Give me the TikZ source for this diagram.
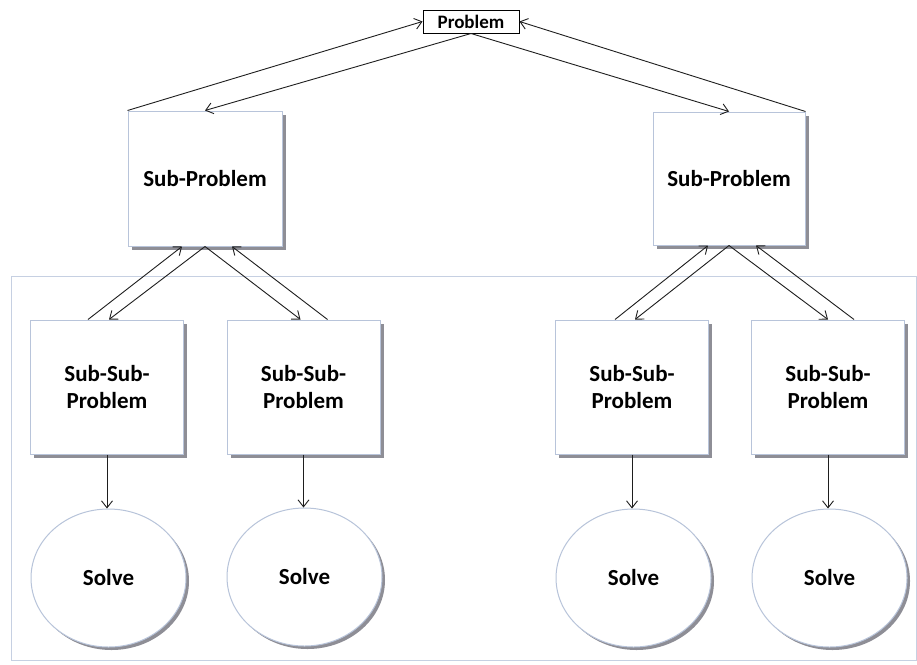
\documentclass[tikz,border=0pt]{standalone}
\usepackage{fontspec}
\setmainfont{Carlito}
\usetikzlibrary{arrows.meta,shapes.geometric,shadows,calc}
\definecolor{boxline}{HTML}{B8C4DA}
\definecolor{frameline}{HTML}{C6D0E2}
\definecolor{shade}{HTML}{8E8E96}
\definecolor{ink}{HTML}{1E1E1E}
\begin{document}
\begin{tikzpicture}[x=1pt,y=-1pt,
  txt/.style={font=\bfseries\fontsize{23}{27}\selectfont, text=black, align=center},
  probbox/.style={draw=black, line width=1pt, fill=white, inner sep=0pt,
     minimum width=96pt, minimum height=23pt, font=\bfseries\fontsize{19}{22}\selectfont},
  sbox/.style={txt, draw=boxline, line width=1pt, fill=white, inner sep=0pt,
     minimum width=153pt, minimum height=134pt,
     drop shadow={shadow xshift=3.5pt, shadow yshift=-3.5pt, fill=shade, opacity=1}},
  solve/.style={txt, ellipse, draw=boxline, line width=1pt, fill=white, inner sep=0pt,
     minimum width=155pt, minimum height=138pt,
     drop shadow={shadow xshift=3pt, shadow yshift=-3pt, fill=shade, opacity=1}},
  arr/.style={draw=ink, line width=0.9pt, -{Straight Barb[length=7pt,width=11pt,line width=0.9pt]}},
  container/.style={draw=frameline, line width=1pt}
]
\useasboundingbox (0,0) rectangle (917,664);
\fill[white] (0,0) rectangle (917,664);
\draw[container] (11,276) rectangle (916,660);

\node[probbox] (prob) at (471,21.5) {Problem};
\node[sbox, minimum width=154pt, minimum height=135pt] (sp1) at (205,178.5) {Sub-Problem};
\node[sbox, minimum width=152pt, minimum height=133pt] (sp2) at (729,178.5) {Sub-Problem};

\node[sbox] (ss1) at (107,387) {Sub-Sub-\\Problem};
\node[sbox] (ss2) at (303.5,387) {Sub-Sub-\\Problem};
\node[sbox] (ss3) at (632,387) {Sub-Sub-\\Problem};
\node[sbox] (ss4) at (828,387) {Sub-Sub-\\Problem};

\node[solve] (e1) at (108.5,578) {Solve};
\node[solve] (e2) at (304.5,577) {Solve};
\node[solve] (e3) at (633.5,578) {Solve};
\node[solve] (e4) at (829.5,578) {Solve};

% Problem <-> Sub-Problems
\draw[arr] (sp1.north west) -- (prob.west);
\draw[arr] (prob.south) -- (sp1.north);
\draw[arr] (prob.south) -- (sp2.north);
\draw[arr] (sp2.north east) -- (prob.east);

% left Sub-Problem <-> Sub-Sub-Problems
\draw[arr] ($(ss1.north)+(-19,0)$) -- ($(sp1.south)+(-23,0)$);
\draw[arr] (sp1.south) -- ($(ss1.north)+(2,0)$);
\draw[arr] (sp1.south) -- ($(ss2.north)+(-3,0)$);
\draw[arr] ($(ss2.north)+(24,0)$) -- ($(sp1.south)+(27,0)$);

% right Sub-Problem <-> Sub-Sub-Problems
\draw[arr] ($(ss3.north)+(-17,0)$) -- ($(sp2.south)+(-21,0)$);
\draw[arr] (sp2.south) -- ($(ss3.north)+(3,0)$);
\draw[arr] (sp2.south) -- ($(ss4.north)+(0,0)$);
\draw[arr] ($(ss4.north)+(26,0)$) -- ($(sp2.south)+(27,0)$);

% Sub-Sub-Problems -> Solve
\draw[arr] (ss1.south) -- (ss1.south |- e1.north);
\draw[arr] (ss2.south) -- (ss2.south |- e2.north);
\draw[arr] (ss3.south) -- (ss3.south |- e3.north);
\draw[arr] (ss4.south) -- (ss4.south |- e4.north);
\end{tikzpicture}
\end{document}
